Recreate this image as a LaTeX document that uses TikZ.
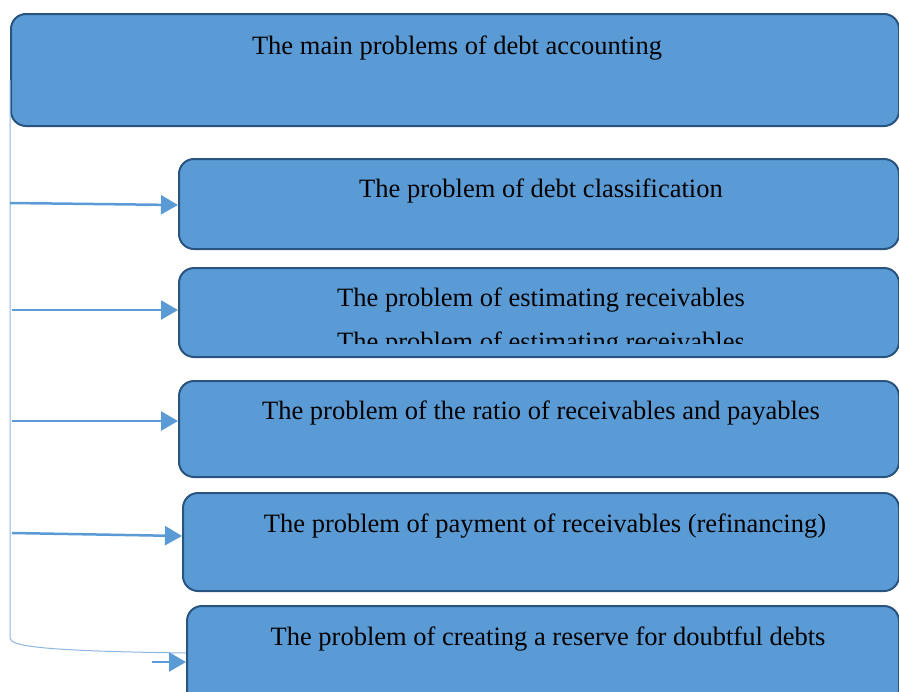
\documentclass[tikz,border=0pt]{standalone}
\usepackage{fontspec}
\setmainfont{Liberation Serif}
\usetikzlibrary{arrows.meta,calc}
\definecolor{boxfill}{HTML}{5B9BD5}
\definecolor{boxedge}{HTML}{2A5480}
\definecolor{thinline}{HTML}{8DB6E0}
\begin{document}
\begin{tikzpicture}[x=1pt,y=-1pt,
  pbox/.style={draw=boxedge,fill=boxfill,line width=2pt,rounded corners=15pt,rectangle,anchor=north west,inner sep=0pt},
  ptext/.style={anchor=base,inner sep=0pt,font=\fontsize{26.5}{32}\selectfont},
  conn/.style={draw=boxfill,line width=2.5pt,-{Triangle[length=17pt,width=19pt]}},
  spine/.style={draw=thinline,line width=1pt}]
\useasboundingbox (0,0) rectangle (899,691);
\clip (0,0) rectangle (899,691);
\node[pbox,minimum width=888pt,minimum height=112pt] (b1) at (10,13) {};
\node[pbox,minimum width=720pt,minimum height=90pt] (b2) at (178,158) {};
\node[pbox,minimum width=720pt,minimum height=89pt] (b3) at (178,267) {};
\node[pbox,minimum width=720pt,minimum height=96pt] (b4) at (178,380) {};
\node[pbox,minimum width=716pt,minimum height=98pt] (b5) at (182,492) {};
\node[pbox,minimum width=712pt,minimum height=110pt] (b6) at (186,605) {};
\node[ptext] (t1) at (457,54) {The main problems of debt accounting};
\node[ptext] (t2) at (541,197) {The problem of debt classification};
\node[ptext] (t3) at (541,306) {The problem of estimating receivables};
\begin{scope}
\clip (178,267) rectangle (898,343);
\node[ptext] (t3b) at (541,350) {The problem of estimating receivables};
\end{scope}
\node[ptext] (t4) at (541,419) {The problem of the ratio of receivables and payables};
\node[ptext] (t5) at (545,532) {The problem of payment of receivables (refinancing)};
\node[ptext] (t6) at (548,645) {The problem of creating a reserve for doubtful debts};
\coordinate (top) at (10,80);
\coordinate (bend) at (10,638);
\coordinate (s2) at (10,203);
\coordinate (s3) at (12,310);
\coordinate (s4) at (12,421);
\coordinate (s5) at (12,533);
\coordinate (s6) at (152,662);
\coordinate (e6) at (186,653);
\draw[spine] (top) -- (bend) .. controls (10,646) and (40,651) .. (e6);
\draw[conn] (s2) -- ($(s2 -| b2.west)+(0,2)$);
\draw[conn] (s3) -- (s3 -| b3.west);
\draw[conn] (s4) -- (s4 -| b4.west);
\draw[conn] (s5) -- ($(s5 -| b5.west)+(0,3)$);
\draw[conn] (s6) -- (s6 -| b6.west);
\end{tikzpicture}
\end{document}
